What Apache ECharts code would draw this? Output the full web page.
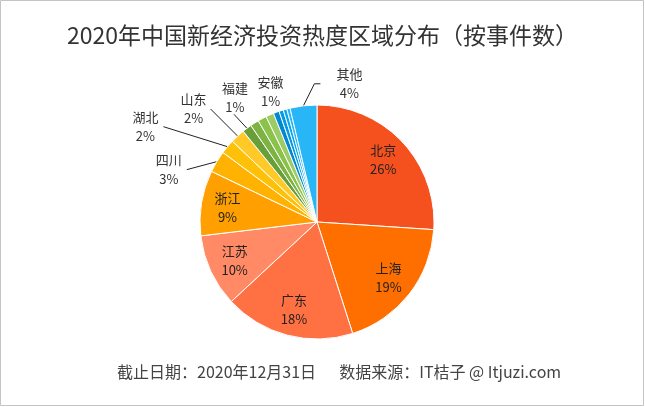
<!DOCTYPE html>
<html><head><meta charset="utf-8">
<script src="https://cdn.jsdelivr.net/npm/echarts/dist/echarts.min.js"></script>
<style>html,body{margin:0;padding:0;background:#fff}#c{width:645px;height:407px}</style>
</head><body><div id="c"></div>
<script>
// ---- data ----
const categories = ['北京','上海','广东','江苏','浙江','四川','湖北','山东','福建','安徽','未标注1','未标注2','未标注3','未标注4','未标注5','未标注6','其他'];
const shares = [26, 19, 18, 10, 9, 3, 2, 2, 1.3, 1.2, 1.2, 1.1, 0.8, 0.6, 0.5, 0.45, 3.7];
const insideLabeled = ['北京','上海','广东','江苏','浙江'];
const outsideLabeled = ['四川','湖北','山东','福建','安徽','其他'];
const titleText = '2020年中国新经济投资热度区域分布（按事件数）';
const footerText = '截止日期：2020年12月31日\u3000  数据来源：IT桔子 @ Itjuzi.com';

// ---- style ----
const colors = ['#F4511E','#FF6F00','#FF7043','#FF8A65','#FFA000','#FFB300','#FFC107','#FFCA28',
  '#689F38','#7CB342','#8BC34A','#9CCC65','#0288D1','#039BE5','#03A9F4','#29B6F6','#29B6F6'];
const center = [317, 222];
const R = 117;
const FONT = 'Noto Sans CJK SC';
// label placement relative to the slice's outer arc midpoint
const outsidePlacement = {
  '四川': {label: [-48, 8],  line: [[-30, 8]]},
  '湖北': {label: [-82, -20], line: [[-64, -20]]},
  '山东': {label: [-44, -27], line: [[-27, -27]]},
  '福建': {label: [-12, -31], line: [[-13, -14]]},
  '安徽': {label: [16, -32],  line: null},
  '其他': {label: [46, -22],  line: [[11, -22], [17, -22]]}
};

const total = shares.reduce((a, b) => a + b, 0);
function arcPoint(i) {
  let cum = 0;
  for (let k = 0; k < i; k++) cum += shares[k];
  const mid = (cum + shares[i] / 2) / total * 2 * Math.PI;
  return [center[0] + R * Math.sin(mid), center[1] - R * Math.cos(mid)];
}

const chart = echarts.init(document.getElementById('c'), null, {renderer: 'canvas'});
const mainData = categories.map((n, i) => {
  const out = outsideLabeled.indexOf(n) >= 0;
  return {
    name: n, value: shares[i],
    itemStyle: {color: colors[i]},
    label: {show: out},
    labelLine: {show: out && !!(outsidePlacement[n] && outsidePlacement[n].line)}
  };
});
const ringData = categories.map((n, i) => ({
  name: n, value: shares[i],
  label: {show: insideLabeled.indexOf(n) >= 0}
}));

chart.setOption({
  animation: false,
  backgroundColor: '#fff',
  title: [
    {text: titleText, left: 'center', top: 19,
     textStyle: {fontFamily: FONT, fontSize: 23, fontWeight: 'normal', color: '#333'}},
    {text: footerText, left: 112, top: 359,
     textStyle: {fontFamily: FONT, fontSize: 16, fontWeight: 'normal', color: '#444'}}
  ],
  graphic: [{
    type: 'rect', silent: true,
    shape: {x: 0.5, y: 0.5, width: 643, height: 405},
    style: {fill: 'none', stroke: '#c4c4c4', lineWidth: 1}
  }],
  series: [
    {
      type: 'pie', center: center, radius: [0, R], startAngle: 90, clockwise: true,
      avoidLabelOverlap: false, percentPrecision: 0,
      itemStyle: {borderColor: '#fff', borderWidth: 1},
      label: {position: 'outside', formatter: '{b}\n{d}%', fontFamily: FONT, fontSize: 13,
              color: '#333', lineHeight: 19, align: 'center'},
      labelLine: {lineStyle: {color: '#222', width: 1}, length: 10, length2: 10},
      labelLayout: function (p) {
        const name = categories[p.dataIndex];
        const cfg = outsidePlacement[name];
        if (!cfg) return {};
        const a = arcPoint(p.dataIndex);
        const res = {x: a[0] + cfg.label[0], y: a[1] + cfg.label[1], align: 'center', verticalAlign: 'middle'};
        if (cfg.line) res.labelLinePoints = [a].concat(cfg.line.map(o => [a[0] + o[0], a[1] + o[1]]));
        return res;
      },
      emphasis: {disabled: true},
      data: mainData
    },
    {
      type: 'pie', center: center, radius: [R / 2, R], startAngle: 90, clockwise: true,
      silent: true, percentPrecision: 0, z: 5,
      itemStyle: {color: 'rgba(0,0,0,0)', borderWidth: 0},
      label: {position: 'inside', formatter: '{b}\n{d}%', fontFamily: FONT, fontSize: 13,
              color: '#222', lineHeight: 19},
      labelLine: {show: false},
      emphasis: {disabled: true},
      data: ringData
    }
  ]
});
</script></body></html>
